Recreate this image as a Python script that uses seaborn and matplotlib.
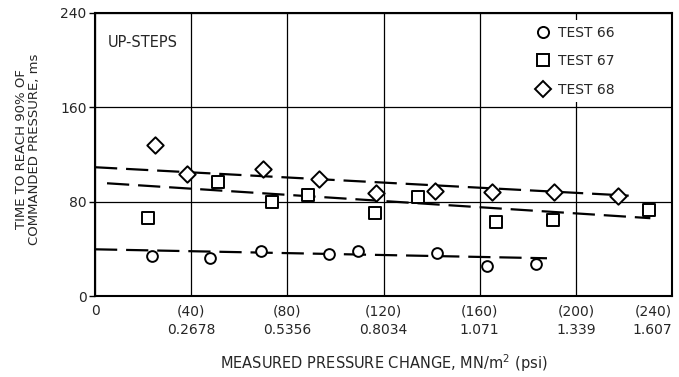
import matplotlib
matplotlib.use("Agg")
import matplotlib.pyplot as plt
import seaborn as sns
from matplotlib.lines import Line2D

# ---- data ----
test66_x = [23.6, 47.8, 68.9, 97.5, 109.3, 142.1, 163.2, 183.4]
test66_y = [34.2, 32.5, 38.2, 35.4, 38.2, 36.2, 25.7, 26.9]
test67_x = [22.2, 51.3, 73.5, 88.7, 116.5, 134.5, 166.7, 190.6, 230.6]
test67_y = [65.9, 96.4, 80.0, 85.7, 70.1, 83.7, 62.5, 64.5, 72.9]
test68_x = [25.0, 38.1, 70.0, 93.3, 116.9, 141.4, 165.0, 190.9, 217.7]
test68_y = [128.1, 103.2, 107.7, 99.0, 87.6, 89.3, 88.5, 88.5, 85.1]

fit66_x = [0, 188]
fit66_y = [39.6, 32.0]
fit67_x = [5, 231]
fit67_y = [95.6, 66.0]
fit68_x = [0, 222]
fit68_y = [109.2, 85.1]

x_ticks = [0, 40, 80, 120, 160, 200, 240]
x_tick_psi = ["0", "(40)", "(80)", "(120)", "(160)", "(200)", "(240)"]
x_tick_si = ["", "0.2678", "0.5356", "0.8034", "1.071", "1.339", "1.607"]
y_ticks = [0, 80, 160, 240]

series_labels = ["TEST 66", "TEST 67", "TEST 68"]

sns.set_style("white")
plt.rcParams["font.family"] = ["DejaVu Sans"]
plt.rcParams["mathtext.default"] = "regular"

fig = plt.figure(figsize=(6.79, 3.77), dpi=100)
ax = fig.add_axes([95 / 679, 1 - 296 / 377, (672 - 95) / 679, (296 - 13) / 377])

# dashed fit lines
for fx, fy in [(fit66_x, fit66_y), (fit67_x, fit67_y), (fit68_x, fit68_y)]:
    sns.lineplot(x=fx, y=fy, ax=ax, color="black", linewidth=1.6,
                 linestyle=(0, (10, 4)), zorder=3)

mk = dict(facecolor="white", edgecolor="black", linewidth=1.4, zorder=4)
sns.scatterplot(x=test66_x, y=test66_y, ax=ax, marker="o", s=60, **mk)
sns.scatterplot(x=test67_x, y=test67_y, ax=ax, marker="s", s=65, **mk)
sns.scatterplot(x=test68_x, y=test68_y, ax=ax, marker="D", s=70, **mk)

ax.set_xlim(0, 240)
ax.set_ylim(0, 240)
ax.set_xticks(x_ticks)
ax.set_yticks(y_ticks)
labels = [p if not s else p + "\n" + s for p, s in zip(x_tick_psi, x_tick_si)]
ax.set_xticklabels(labels, fontsize=10)
for t in ax.get_xticklabels():
    t.set_linespacing(1.45)
ax.get_xticklabels()[-1].set_horizontalalignment("right")
ax.set_yticklabels([str(v) for v in y_ticks], fontsize=10)
ax.tick_params(axis="x", length=0, pad=6)
ax.tick_params(axis="y", length=4, width=1, direction="out", color="black", pad=2, left=True)
ax.grid(True, color="black", linewidth=0.9)
ax.set_axisbelow(True)
for sp in ax.spines.values():
    sp.set_color("black")
    sp.set_linewidth(1.5)
    sp.set_zorder(2.5)

ax.set_xlabel("MEASURED PRESSURE CHANGE, MN/m$^{2}$ (psi)", fontsize=10.5, labelpad=11)
ax.set_ylabel("TIME TO REACH 90% OF\nCOMMANDED PRESSURE, ms", fontsize=9.5,
              linespacing=0.95)
ax.yaxis.set_label_coords(-0.094, 0.52)

ax.text(0.022, 0.897, "UP-STEPS", transform=ax.transAxes, fontsize=10.5,
        ha="left", va="center",
        bbox=dict(facecolor="white", edgecolor="none", pad=1))

handles = [
    Line2D([], [], marker="o", linestyle="none", markersize=8,
           markerfacecolor="white", markeredgecolor="black", markeredgewidth=1.4),
    Line2D([], [], marker="s", linestyle="none", markersize=8,
           markerfacecolor="white", markeredgecolor="black", markeredgewidth=1.4),
    Line2D([], [], marker="D", linestyle="none", markersize=8,
           markerfacecolor="white", markeredgecolor="black", markeredgewidth=1.4),
]
leg = ax.legend(handles, series_labels, loc="upper left", bbox_to_anchor=(0.752, 0.975),
                frameon=True, facecolor="white", edgecolor="none", framealpha=1,
                fontsize=10, handletextpad=0.5, labelspacing=1.05,
                borderaxespad=0.0, borderpad=0.4, handlelength=1.2)
leg.set_zorder(2.4)

fig.savefig("out.png", dpi=100)
